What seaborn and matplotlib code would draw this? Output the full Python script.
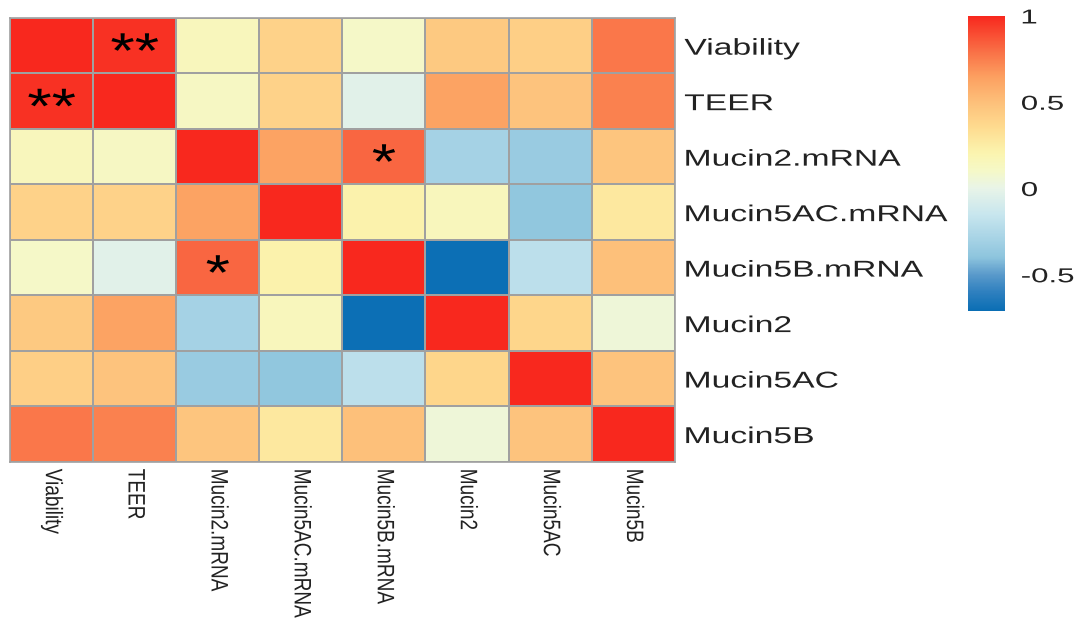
import numpy as np
import pandas as pd
import seaborn as sns
import matplotlib
matplotlib.use("Agg")
import matplotlib.pyplot as plt
from matplotlib.colors import LinearSegmentedColormap
from matplotlib.patheffects import AbstractPathEffect
from matplotlib.transforms import Affine2D

# Variables in the correlation matrix
variables = ["Viability", "TEER", "Mucin2.mRNA", "Mucin5AC.mRNA",
             "Mucin5B.mRNA", "Mucin2", "Mucin5AC", "Mucin5B"]

# Pearson correlation coefficients, one list per row
viability = [1.00, 0.97, 0.15, 0.40, 0.10, 0.45, 0.42, 0.77]
teer = [0.97, 1.00, 0.12, 0.40, -0.03, 0.63, 0.48, 0.74]
mucin2_mrna = [0.15, 0.12, 1.00, 0.63, 0.82, -0.30, -0.35, 0.47]
mucin5ac_mrna = [0.40, 0.40, 0.63, 1.00, 0.22, 0.15, -0.38, 0.28]
mucin5b_mrna = [0.10, -0.03, 0.82, 0.22, 1.00, -0.70, -0.20, 0.50]
mucin2 = [0.45, 0.63, -0.30, 0.15, -0.70, 1.00, 0.38, 0.05]
mucin5ac = [0.42, 0.48, -0.35, -0.38, -0.20, 0.38, 1.00, 0.48]
mucin5b = [0.77, 0.74, 0.47, 0.28, 0.50, 0.05, 0.48, 1.00]

# Significance marks (row, column, stars)
signif_rows = [0, 1, 2, 4]
signif_cols = [1, 0, 4, 2]
signif_marks = ["**", "**", "*", "*"]

# Colour bar ticks
cbar_ticks = [-0.5, 0, 0.5, 1]
cbar_ticklabels = ["-0.5", "0", "0.5", "1"]

corr = pd.DataFrame([viability, teer, mucin2_mrna, mucin5ac_mrna,
                     mucin5b_mrna, mucin2, mucin5ac, mucin5b],
                    index=variables, columns=variables)


class WideText(AbstractPathEffect):
    """Draw text glyphs widened horizontally (screen x) by a factor."""

    def __init__(self, factor, anchor="left"):
        super().__init__()
        self.factor = factor
        self.anchor = anchor

    def draw_path(self, renderer, gc, tpath, affine, rgbFace=None):
        ext = affine.transform_path(tpath).get_extents()
        if self.anchor == "left":
            x0 = ext.x0
        elif self.anchor == "right":
            x0 = ext.x1
        else:
            x0 = 0.5 * (ext.x0 + ext.x1)
        stretch = Affine2D().translate(-x0, 0).scale(self.factor, 1).translate(x0, 0)
        renderer.draw_path(gc, tpath, affine + stretch, rgbFace)


vmin, vmax = -0.71, 1.0
nodes = [(-0.71, "#0A6EB4"), (-0.6, "#2F80BF"), (-0.5, "#5A9ACB"),
         (-0.4, "#8DC4DD"), (-0.3, "#A5D2E5"), (-0.15, "#C8E6EE"),
         (0.0, "#E8F4E8"), (0.1, "#F5F8C8"), (0.2, "#FBF5B0"),
         (0.35, "#FEDC90"), (0.5, "#FDC07A"), (0.65, "#FC9F60"),
         (0.8, "#F96E45"), (1.0, "#F8281E")]
cmap = LinearSegmentedColormap.from_list(
    "corr", [((v - vmin) / (vmax - vmin), c) for v, c in nodes], N=512)

sns.set_style("white")
plt.rcParams["font.family"] = ["Liberation Sans", "DejaVu Sans"]

fig = plt.figure(figsize=(10.79, 6.19), dpi=100)
ax = fig.add_axes([0.0093, 0.254, 0.616, 0.717])
cax = fig.add_axes([0.897, 0.4976, 0.034, 0.4766])

sns.heatmap(corr, ax=ax, cbar_ax=cax, cmap=cmap, vmin=vmin, vmax=vmax,
            linewidths=1.2, linecolor="#A0A0A0")

# Significance stars, centred in their cells
star_fs = 36
for r, c, m in zip(signif_rows, signif_cols, signif_marks):
    ax.annotate(m, xy=(c + 0.5, r + 0.5), xytext=(0, -0.44 * star_fs),
                textcoords="offset points", ha="center", va="baseline",
                fontsize=star_fs, color="black",
                path_effects=[WideText(1.25, "center")])

ax.yaxis.tick_right()
ax.tick_params(axis="both", length=0, colors="#222222")
ax.set_yticklabels(variables, rotation=0, ha="left", fontsize=16.5,
                   path_effects=[WideText(1.47, "left")])
ax.set_xticklabels(variables, rotation=270, ha="center", va="top",
                   fontsize=13.7, path_effects=[WideText(1.25, "center")])
ax.tick_params(axis="y", pad=7)
ax.tick_params(axis="x", pad=5)
ax.set_xlabel("")
ax.set_ylabel("")
for s in ax.spines.values():
    s.set_visible(True)
    s.set_color("#A0A0A0")
    s.set_linewidth(1.2)

cax.set_yticks(cbar_ticks)
cax.set_yticklabels(cbar_ticklabels, fontsize=14.5,
                    path_effects=[WideText(1.55, "left")])
cax.tick_params(length=0, pad=12, colors="#222222")
for s in cax.spines.values():
    s.set_visible(False)

fig.savefig("out.png", dpi=100)
